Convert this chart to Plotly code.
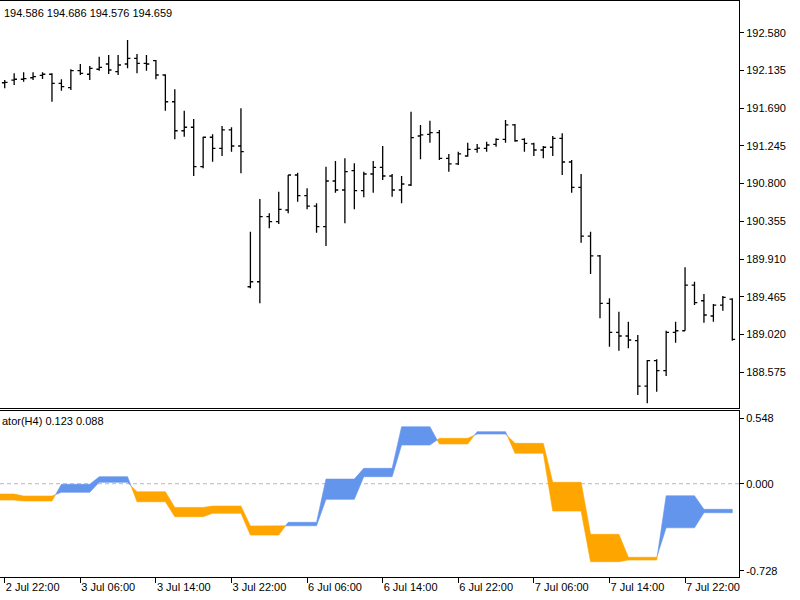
import plotly.graph_objects as go

# ---------------- data (H1 bars) ----------------
opens = [191.990, 192.022, 192.031, 192.049, 192.078, 192.090, 191.983, 191.932, 192.132, 192.090,
         192.149, 192.211, 192.120, 192.211, 192.278, 192.219, 192.250, 192.081, 191.766, 191.424,
         191.465, 191.000, 191.347, 191.217, 191.433, 191.244, 189.584, 189.643, 190.410, 190.351,
         190.489, 190.902, 190.658, 190.536, 190.292, 190.831, 190.725, 190.953, 190.717, 190.914,
         190.993, 190.890, 190.725, 190.784, 191.362, 191.382, 191.401, 191.099, 191.032, 191.126,
         191.205, 191.217, 191.264, 191.323, 191.492, 191.323, 191.268, 191.197, 191.229, 191.335,
         191.055, 190.755, 190.182, 189.947, 189.389, 189.046, 189.003, 188.948, 188.413, 188.712,
         188.594, 189.046, 189.065, 189.604, 189.419, 189.239, 189.368, 189.439]
highs = [192.022, 192.101, 192.113, 192.113, 192.113, 192.101, 192.031, 192.149, 192.211, 192.188,
         192.297, 192.317, 192.317, 192.494, 192.329, 192.317, 192.258, 192.090, 191.913, 191.660,
         191.562, 191.354, 191.382, 191.480, 191.465, 191.689, 190.233, 190.619, 190.450, 190.705,
         190.902, 190.929, 190.745, 190.568, 191.000, 191.067, 191.099, 191.040, 190.941, 191.067,
         191.244, 190.914, 190.890, 191.649, 191.492, 191.542, 191.433, 191.150, 191.177, 191.283,
         191.268, 191.295, 191.335, 191.551, 191.503, 191.335, 191.283, 191.244, 191.362, 191.394,
         191.079, 190.914, 190.233, 189.958, 189.448, 189.290, 189.172, 189.015, 188.720, 188.728,
         189.065, 189.172, 189.813, 189.643, 189.498, 189.380, 189.475, 189.448]
lows = [191.924, 191.963, 192.002, 192.022, 192.034, 191.766, 191.896, 191.904, 192.081, 192.022,
        192.132, 192.093, 192.081, 192.160, 192.101, 192.132, 192.031, 191.660, 191.323, 191.354,
        190.890, 190.981, 191.059, 191.126, 191.177, 190.922, 189.566, 189.389, 190.273, 190.324,
        190.450, 190.587, 190.497, 190.221, 190.064, 190.693, 190.332, 190.497, 190.639, 190.693,
        190.843, 190.646, 190.568, 190.772, 191.087, 191.283, 191.079, 190.941, 191.020, 191.118,
        191.165, 191.177, 191.236, 191.283, 191.295, 191.177, 191.126, 191.099, 191.126, 190.902,
        190.693, 190.103, 189.734, 189.212, 188.877, 188.830, 188.858, 188.307, 188.209, 188.346,
        188.531, 188.924, 189.065, 189.368, 189.160, 189.172, 189.301, 188.948]
closes = [191.995, 192.031, 192.038, 192.061, 192.090, 191.983, 191.943, 192.132, 192.101, 192.160,
          192.172, 192.140, 192.199, 192.278, 192.219, 192.211, 192.081, 191.766, 191.424, 191.465,
          191.000, 191.347, 191.217, 191.433, 191.244, 191.177, 189.643, 190.410, 190.351, 190.497,
          190.902, 190.658, 190.536, 190.292, 190.831, 190.725, 190.941, 190.717, 190.914, 190.993,
          190.890, 190.725, 190.796, 191.342, 191.374, 191.401, 191.099, 191.032, 191.150, 191.205,
          191.220, 191.256, 191.323, 191.492, 191.306, 191.276, 191.197, 191.229, 191.335, 191.055,
          190.755, 190.182, 189.947, 189.389, 189.046, 189.003, 188.956, 188.413, 188.712, 188.594,
          189.046, 189.065, 189.604, 189.396, 189.251, 189.368, 189.459, 188.964]

# indicator values per H4 bar (two lines, filled between)
h4_fast = [-0.137, -0.145, -0.005, 0.059, -0.151, -0.276, -0.248, -0.430, -0.323, 0.039,
           0.129, 0.477, 0.333, 0.436, 0.255, -0.229, -0.653, -0.639, -0.101, -0.214]
h4_slow = [-0.086, -0.103, -0.072, 0.012, -0.067, -0.198, -0.187, -0.354, -0.352, -0.131,
           0.059, 0.324, 0.380, 0.416, 0.338, 0.012, -0.424, -0.616, -0.369, -0.243]
h1_first_index = -1    # first H4 bar starts off-screen; its 21:00 bar sits just left of the view
h1_bars_first_h4 = 3   # H1 bars of the first H4 bar from h1_first_index (21:00, 22:00, 23:00)
h1_per_h4 = 4

time_tick_idx = [0, 8, 16, 24, 32, 40, 48, 56, 64, 72]
time_tick_labels = ["2 Jul 22:00", "3 Jul 06:00", "3 Jul 14:00", "3 Jul 22:00", "6 Jul 06:00",
                    "6 Jul 14:00", "6 Jul 22:00", "7 Jul 06:00", "7 Jul 14:00", "7 Jul 22:00"]
price_ticks = [192.580, 192.135, 191.690, 191.245, 190.800, 190.355, 189.910, 189.465, 189.020, 188.575]
ind_ticks = [0.548, 0.000, -0.728]
header_main = "194.586 194.686 194.576 194.659"
header_ind = "ator(H4) 0.123 0.088"

UP_COLOR = "#6495ED"
DN_COLOR = "#FFA500"
FONT = "Liberation Sans"

n = len(opens)
xs = list(range(n))

# expand H4 values onto H1 bars
ix = list(range(h1_first_index, n))
fast, slow = [], []
for j, i in enumerate(ix):
    k = 0 if j < h1_bars_first_h4 else 1 + (j - h1_bars_first_h4) // h1_per_h4
    fast.append(h4_fast[k])
    slow.append(h4_slow[k])

def sgn(v):
    return 1 if v >= 0 else -1

runs = []
cur = [(ix[0], fast[0], slow[0])]
cur_s = sgn(fast[0] - slow[0])
for j in range(len(ix) - 1):
    d1 = fast[j + 1] - slow[j + 1]
    s1 = sgn(d1)
    if s1 == cur_s:
        cur.append((ix[j + 1], fast[j + 1], slow[j + 1]))
    else:
        d0 = fast[j] - slow[j]
        t = d0 / (d0 - d1)
        xc = ix[j] + t
        yc = fast[j] + t * (fast[j + 1] - fast[j])
        cur.append((xc, yc, yc))
        runs.append((cur_s, cur))
        cur = [(xc, yc, yc), (ix[j + 1], fast[j + 1], slow[j + 1])]
        cur_s = s1
runs.append((cur_s, cur))

fig = go.Figure()

fig.add_trace(go.Ohlc(
    x=xs, open=opens, high=highs, low=lows, close=closes,
    increasing=dict(line=dict(color="black", width=1.3)),
    decreasing=dict(line=dict(color="black", width=1.3)),
    tickwidth=0.3, hoverinfo="skip", showlegend=False,
    xaxis="x", yaxis="y"))

for s, pts in runs:
    px = [p[0] for p in pts] + [p[0] for p in reversed(pts)]
    py = [p[1] for p in pts] + [p[2] for p in reversed(pts)]
    col = UP_COLOR if s > 0 else DN_COLOR
    fig.add_trace(go.Scatter(
        x=px, y=py, mode="lines", fill="toself", fillcolor=col,
        line=dict(color=col, width=0.6), hoverinfo="skip", showlegend=False,
        xaxis="x2", yaxis="y2"))

xr = [-0.5, 77.71]
XD = [0, 739 / 800]
xaxis_common = dict(showline=True, linecolor="black", linewidth=1, mirror=True,
                    showgrid=False, zeroline=False)
yaxis_common = dict(showline=True, linecolor="black", linewidth=1, mirror=False,
                    showgrid=False, zeroline=False)

fig.update_layout(
    width=800, height=600, margin=dict(l=0, r=0, t=0, b=0),
    paper_bgcolor="white", plot_bgcolor="white",
    font=dict(family=FONT, size=11, color="black"),
    xaxis=dict(domain=XD, range=xr, anchor="y", showticklabels=False, ticks="",
               rangeslider=dict(visible=False), **xaxis_common),
    yaxis=dict(domain=[1 - 408 / 600, 1 - 1 / 600], range=[188.154, 192.954], side="right",
               anchor="x", tickvals=price_ticks, ticktext=[f"{v:.3f}" for v in price_ticks],
               ticks="outside", ticklen=4, tickcolor="black", **yaxis_common),
    xaxis2=dict(domain=XD, range=xr, anchor="y2", tickvals=time_tick_idx, ticktext=time_tick_labels,
                ticks="outside", ticklen=5, tickcolor="black", ticklabelposition="outside right",
                rangeslider=dict(visible=False), **xaxis_common),
    yaxis2=dict(domain=[1 - 577 / 600, 1 - 411 / 600], range=[-0.781, 0.609], side="right",
                anchor="x2", tickvals=ind_ticks, ticktext=[f"{v:.3f}" for v in ind_ticks],
                ticks="outside", ticklen=4, tickcolor="black", **yaxis_common),
    shapes=[dict(type="line", xref="x2", yref="y2", x0=xr[0], x1=xr[1], y0=0, y1=0,
                 line=dict(color="#b8b8b8", width=1, dash="4px,3px"), layer="below")],
    annotations=[
        dict(text=header_main, xref="paper", yref="paper", x=2 / 800, y=1 - 12.5 / 600,
             xanchor="left", yanchor="middle", showarrow=False, font=dict(size=11)),
        dict(text=header_ind, xref="paper", yref="paper", x=0, y=1 - 421 / 600,
             xanchor="left", yanchor="middle", showarrow=False, font=dict(size=11)),
    ],
)

fig.write_html("out.html")
